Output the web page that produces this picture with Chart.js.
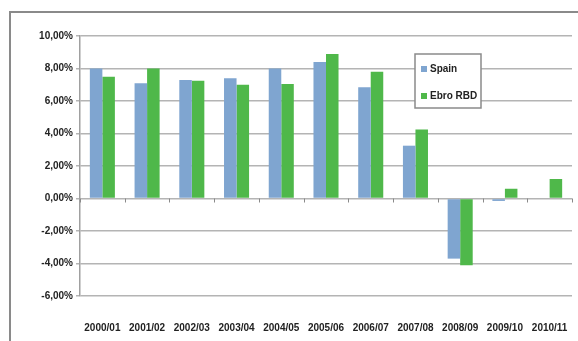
<!DOCTYPE html>
<html>
<head>
<meta charset="utf-8">
<script src="https://cdn.jsdelivr.net/npm/chart.js@4/dist/chart.umd.min.js"></script>
<style>
  html, body { margin: 0; padding: 0; background: #fff; }
  #wrap { position: relative; width: 578px; height: 341px; overflow: hidden; }
  #frame { position: absolute; left: 9px; top: 11px; width: 600px; height: 400px;
           border-left: 2px solid #8a8a8a; border-top: 2px solid #8a8a8a; }
  canvas { position: absolute; left: 0; top: 0; }
</style>
</head>
<body>
<div id="wrap">
  <div id="frame"></div>
  <canvas id="growthChart" width="578" height="341"></canvas>
</div>
<script>
/* DATA */
const categories = ["2000/01", "2001/02", "2002/03", "2003/04", "2004/05", "2005/06",
                    "2006/07", "2007/08", "2008/09", "2009/10", "2010/11"];
const spain = [8.0, 7.1, 7.3, 7.4, 8.0, 8.4, 6.85, 3.25, -3.7, -0.15, 0];
const ebroRBD = [7.5, 8.0, 7.25, 7.0, 7.05, 8.9, 7.8, 4.25, -4.1, 0.6, 1.2];
const yTicks = [-6, -4, -2, 0, 2, 4, 6, 8, 10];

const FONT = "'Liberation Sans', Arial, sans-serif";

/* legend drawn inside the plot, like the original */
const boxLegend = {
    id: "boxLegend",
    afterDraw(chart) {
        const ctx = chart.ctx;
        const x = 415, y = 54, w = 66, h = 54;
        ctx.save();
        ctx.fillStyle = "#fff";
        ctx.fillRect(x, y, w, h);
        ctx.strokeStyle = "#8a8a8a";
        ctx.lineWidth = 1.5;
        ctx.strokeRect(x, y, w, h);
        ctx.font = "bold 10px " + FONT;
        ctx.textBaseline = "middle";
        chart.data.datasets.forEach((ds, i) => {
            const cy = y + 15 + i * 27;
            ctx.fillStyle = ds.backgroundColor;
            ctx.fillRect(x + 6, cy - 3, 6, 6);
            ctx.fillStyle = "#222";
            ctx.fillText(ds.label, x + 15, cy);
        });
        ctx.restore();
    }
};

/* small tick marks on the zero line between categories */
const zeroTicks = {
    id: "zeroTicks",
    afterDatasetsDraw(chart) {
        const ctx = chart.ctx, xs = chart.scales.x, ys = chart.scales.y;
        const y0 = ys.getPixelForValue(0);
        ctx.save();
        ctx.strokeStyle = "#8a8a8a";
        ctx.lineWidth = 1;
        for (let i = 0; i <= categories.length; i++) {
            const px = Math.round(xs.getPixelForValue(i - 0.5)) + 0.5;
            ctx.beginPath();
            ctx.moveTo(px, y0);
            ctx.lineTo(px, y0 + 4);
            ctx.stroke();
        }
        ctx.restore();
    }
};

new Chart(document.getElementById("growthChart"), {
    type: "bar",
    data: {
        labels: categories,
        datasets: [
            { label: "Spain", data: spain, backgroundColor: "#7fa5d0" },
            { label: "Ebro RBD", data: ebroRBD, backgroundColor: "#4fb84a" }
        ]
    },
    options: {
        responsive: false,
        animation: false,
        devicePixelRatio: 1,
        layout: { padding: { top: 36, right: 6, bottom: 0, left: 0 } },
        categoryPercentage: 0.56,
        barPercentage: 1,
        plugins: {
            legend: { display: false },
            tooltip: { enabled: false }
        },
        scales: {
            x: {
                grid: { display: false },
                border: { display: false },
                ticks: {
                    color: "#222",
                    padding: 18,
                    autoSkip: false,
                    maxRotation: 0,
                    font: { family: FONT, size: 10, weight: "bold" }
                },
                afterFit(scale) {
                    scale.height = 45;
                    scale.paddingLeft = 0;
                    scale.paddingRight = 0;
                }
            },
            y: {
                min: -6,
                max: 10,
                afterBuildTicks(scale) { scale.ticks = yTicks.map(v => ({ value: v })); },
                grid: { color: "#b4b4b4", lineWidth: 1.5, tickLength: 4 },
                border: { color: "#a0a0a0", width: 1.5 },
                ticks: {
                    color: "#222",
                    padding: 3,
                    font: { family: FONT, size: 10, weight: "bold" },
                    callback: v => v.toFixed(2).replace(".", ",") + "%"
                },
                afterFit(scale) { scale.width = 80; }
            }
        }
    },
    plugins: [zeroTicks, boxLegend]
});
</script>
</body>
</html>
